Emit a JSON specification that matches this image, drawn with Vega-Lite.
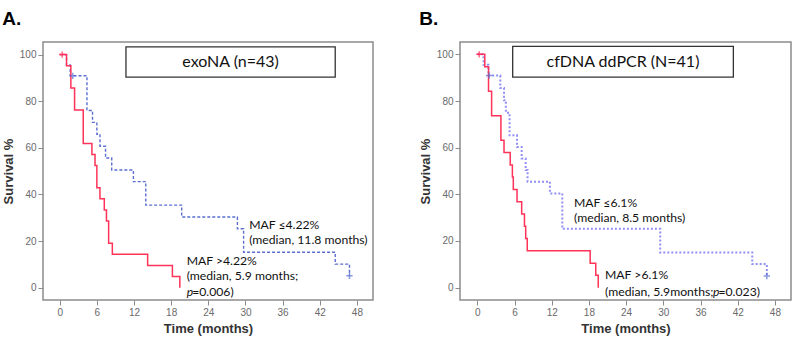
{
  "$schema": "https://vega.github.io/schema/vega-lite/v6.json",
  "background": "white",
  "padding": {"left": 1, "top": 9, "right": 5, "bottom": 5},
  "spacing": 44,
  "datasets": {
    "km": [
      {"panel": "A", "g": "hi", "t": 0, "s": 100},
      {"panel": "A", "g": "hi", "t": 1.1, "s": 95.2},
      {"panel": "A", "g": "hi", "t": 1.8, "s": 85.7},
      {"panel": "A", "g": "hi", "t": 2.4, "s": 76.2},
      {"panel": "A", "g": "hi", "t": 3.8, "s": 61.9},
      {"panel": "A", "g": "hi", "t": 5.2, "s": 57.1},
      {"panel": "A", "g": "hi", "t": 5.7, "s": 52.4},
      {"panel": "A", "g": "hi", "t": 6.0, "s": 42.9},
      {"panel": "A", "g": "hi", "t": 6.5, "s": 38.1},
      {"panel": "A", "g": "hi", "t": 7.2, "s": 33.3},
      {"panel": "A", "g": "hi", "t": 7.55, "s": 28.6},
      {"panel": "A", "g": "hi", "t": 7.9, "s": 19.0},
      {"panel": "A", "g": "hi", "t": 8.5, "s": 14.3},
      {"panel": "A", "g": "hi", "t": 14.2, "s": 9.5},
      {"panel": "A", "g": "hi", "t": 18.2, "s": 4.8},
      {"panel": "A", "g": "hi", "t": 19.4, "s": 0},
      {"panel": "A", "g": "lo", "t": 0, "s": 100},
      {"panel": "A", "g": "lo", "t": 1.1, "s": 95.5},
      {"panel": "A", "g": "lo", "t": 1.7, "s": 90.9},
      {"panel": "A", "g": "lo", "t": 4.4, "s": 76.0},
      {"panel": "A", "g": "lo", "t": 5.3, "s": 70.9},
      {"panel": "A", "g": "lo", "t": 6.0, "s": 65.8},
      {"panel": "A", "g": "lo", "t": 6.5, "s": 60.7},
      {"panel": "A", "g": "lo", "t": 7.4, "s": 55.6},
      {"panel": "A", "g": "lo", "t": 8.4, "s": 50.5},
      {"panel": "A", "g": "lo", "t": 11.9, "s": 45.5},
      {"panel": "A", "g": "lo", "t": 13.9, "s": 35.4},
      {"panel": "A", "g": "lo", "t": 19.7, "s": 30.3},
      {"panel": "A", "g": "lo", "t": 28.7, "s": 25.3},
      {"panel": "A", "g": "lo", "t": 29.7, "s": 15.2},
      {"panel": "A", "g": "lo", "t": 44.5, "s": 10.1},
      {"panel": "A", "g": "lo", "t": 46.8, "s": 5.1},
      {"panel": "B", "g": "hi", "t": 0, "s": 100},
      {"panel": "B", "g": "hi", "t": 1.2, "s": 94.7},
      {"panel": "B", "g": "hi", "t": 1.8, "s": 84.2},
      {"panel": "B", "g": "hi", "t": 2.3, "s": 73.7},
      {"panel": "B", "g": "hi", "t": 3.8, "s": 63.2},
      {"panel": "B", "g": "hi", "t": 4.3, "s": 57.9},
      {"panel": "B", "g": "hi", "t": 5.3, "s": 52.6},
      {"panel": "B", "g": "hi", "t": 5.65, "s": 47.4},
      {"panel": "B", "g": "hi", "t": 5.8, "s": 42.1},
      {"panel": "B", "g": "hi", "t": 6.4, "s": 36.8},
      {"panel": "B", "g": "hi", "t": 7.15, "s": 31.6},
      {"panel": "B", "g": "hi", "t": 7.6, "s": 26.3},
      {"panel": "B", "g": "hi", "t": 7.8, "s": 21.1},
      {"panel": "B", "g": "hi", "t": 8.05, "s": 15.8},
      {"panel": "B", "g": "hi", "t": 18.2, "s": 10.5},
      {"panel": "B", "g": "hi", "t": 19.1, "s": 5.3},
      {"panel": "B", "g": "hi", "t": 19.5, "s": 0},
      {"panel": "B", "g": "lo", "t": 0, "s": 100},
      {"panel": "B", "g": "lo", "t": 1.0, "s": 95.5},
      {"panel": "B", "g": "lo", "t": 1.8, "s": 90.9},
      {"panel": "B", "g": "lo", "t": 3.7, "s": 85.6},
      {"panel": "B", "g": "lo", "t": 4.3, "s": 80.3},
      {"panel": "B", "g": "lo", "t": 4.6, "s": 75.0},
      {"panel": "B", "g": "lo", "t": 5.2, "s": 65.3},
      {"panel": "B", "g": "lo", "t": 6.4, "s": 60.3},
      {"panel": "B", "g": "lo", "t": 7.15, "s": 55.4},
      {"panel": "B", "g": "lo", "t": 7.8, "s": 50.4},
      {"panel": "B", "g": "lo", "t": 8.1, "s": 45.4},
      {"panel": "B", "g": "lo", "t": 11.7, "s": 40.4},
      {"panel": "B", "g": "lo", "t": 13.7, "s": 25.2},
      {"panel": "B", "g": "lo", "t": 29.5, "s": 15.1},
      {"panel": "B", "g": "lo", "t": 44.35, "s": 10.1},
      {"panel": "B", "g": "lo", "t": 46.7, "s": 5.0}
    ],
    "cens": [
      {"panel": "A", "g": "hi", "t": 0.4, "s": 100},
      {"panel": "A", "g": "lo", "t": 2.1, "s": 90.9},
      {"panel": "A", "g": "lo", "t": 46.8, "s": 5.1},
      {"panel": "B", "g": "hi", "t": 0.3, "s": 100},
      {"panel": "B", "g": "lo", "t": 1.9, "s": 90.9},
      {"panel": "B", "g": "lo", "t": 46.7, "s": 5.0}
    ],
    "box": [
      {"panel": "A", "t0": 10.7, "t1": 44.5, "s0": 90.3, "s1": 103.3, "tc": 27.6, "sc": 96.8, "label": "exoNA (n=43)"},
      {"panel": "B", "t0": 5.7, "t1": 41.3, "s0": 90.2, "s1": 103.4, "tc": 23.5, "sc": 96.8, "label": "cfDNA ddPCR (N=41)"}
    ],
    "notes": [
      {"panel": "A", "t": 30.6, "s": 26.7, "label": "MAF ≤4.22%"},
      {"panel": "A", "t": 30.6, "s": 20.4, "label": "(median, 11.8 months)"},
      {"panel": "A", "t": 20.5, "s": 11.4, "label": "MAF >4.22%"},
      {"panel": "A", "t": 20.5, "s": 4.9, "label": "(median, 5.9 months;"},
      {"panel": "A", "t": 21.4, "s": -1.7, "label": "=0.006)"},
      {"panel": "B", "t": 15.6, "s": 36.1, "label": "MAF ≤6.1%"},
      {"panel": "B", "t": 15.6, "s": 29.7, "label": "(median, 8.5 months)"},
      {"panel": "B", "t": 20.6, "s": 5.3, "label": "MAF >6.1%"},
      {"panel": "B", "t": 20.6, "s": -1.7, "label": "(median, 5.9months;"},
      {"panel": "B", "t": 38.9, "s": -1.7, "label": "=0.023)"}
    ],
    "pnotes": [
      {"panel": "A", "t": 20.5, "s": -1.7, "label": "p"},
      {"panel": "B", "t": 38.0, "s": -1.7, "label": "p"}
    ]
  },
  "hconcat": [
    {
      "title": {"text": "A.", "anchor": "start", "frame": "bounds", "fontSize": 19, "fontWeight": "bold", "font": "Liberation Sans", "color": "black", "offset": 13},
      "width": 330,
      "height": 258,
      "layer": [
        {"data": {"name": "box"}, "transform": [{"filter": "datum.panel === 'A'"}],
         "mark": {"type": "rect", "fill": "white", "stroke": "#333", "strokeWidth": 1.3},
         "encoding": {
           "x": {"field": "t0", "type": "quantitative", "scale": {"domain": [-2.7, 50.6], "nice": false, "zero": false}, "axis": {"values": [0, 6, 12, 18, 24, 30, 36, 42, 48], "title": "Time (months)"}},
           "x2": {"field": "t1"},
           "y": {"field": "s0", "type": "quantitative", "scale": {"domain": [-5.3, 105.4], "nice": false, "zero": false}, "axis": {"values": [0, 20, 40, 60, 80, 100], "title": "Survival %"}},
           "y2": {"field": "s1"}}},
        {"data": {"name": "box"}, "transform": [{"filter": "datum.panel === 'A'"}],
         "mark": {"type": "text", "font": "Lato", "fontSize": 16, "color": "#111", "align": "center", "baseline": "middle"},
         "encoding": {"x": {"field": "tc", "type": "quantitative"}, "y": {"field": "sc", "type": "quantitative"}, "text": {"field": "label"}}},
        {"data": {"name": "km"}, "transform": [{"filter": "datum.panel === 'A' && datum.g === 'lo'"}],
         "mark": {"type": "line", "interpolate": "step-after", "color": "#5a6ed0", "strokeWidth": 1.4, "strokeDash": [3, 2]},
         "encoding": {"x": {"field": "t", "type": "quantitative"}, "y": {"field": "s", "type": "quantitative"}, "order": {"field": "t"}}},
        {"data": {"name": "km"}, "transform": [{"filter": "datum.panel === 'A' && datum.g === 'hi'"}],
         "mark": {"type": "line", "interpolate": "step-after", "color": "#ff3358", "strokeWidth": 1.5},
         "encoding": {"x": {"field": "t", "type": "quantitative"}, "y": {"field": "s", "type": "quantitative"}, "order": {"field": "t"}}},
        {"data": {"name": "cens"}, "transform": [{"filter": "datum.panel === 'A' && datum.g === 'hi'"}],
         "mark": {"type": "point", "shape": "M-1,0H1M0,-1V1", "size": 40, "filled": false, "stroke": "#ff3358", "strokeWidth": 1.5},
         "encoding": {"x": {"field": "t", "type": "quantitative"}, "y": {"field": "s", "type": "quantitative"}}},
        {"data": {"name": "cens"}, "transform": [{"filter": "datum.panel === 'A' && datum.g === 'lo'"}],
         "mark": {"type": "point", "shape": "M-1,0H1M0,-1V1", "size": 40, "filled": false, "stroke": "#5a6ed0", "strokeWidth": 1.5},
         "encoding": {"x": {"field": "t", "type": "quantitative"}, "y": {"field": "s", "type": "quantitative"}}},
        {"data": {"name": "notes"}, "transform": [{"filter": "datum.panel === 'A'"}],
         "mark": {"type": "text", "font": "Lato", "fontSize": 12.2, "color": "#111", "align": "left", "baseline": "middle"},
         "encoding": {"x": {"field": "t", "type": "quantitative"}, "y": {"field": "s", "type": "quantitative"}, "text": {"field": "label"}}},
        {"data": {"name": "pnotes"}, "transform": [{"filter": "datum.panel === 'A'"}],
         "mark": {"type": "text", "font": "Lato", "fontSize": 12.2, "fontStyle": "italic", "color": "#111", "align": "left", "baseline": "middle"},
         "encoding": {"x": {"field": "t", "type": "quantitative"}, "y": {"field": "s", "type": "quantitative"}, "text": {"field": "label"}}}
      ]
    },
    {
      "title": {"text": "B.", "anchor": "start", "frame": "bounds", "fontSize": 19, "fontWeight": "bold", "font": "Liberation Sans", "color": "black", "offset": 13},
      "width": 331,
      "height": 258,
      "layer": [
        {"data": {"name": "box"}, "transform": [{"filter": "datum.panel === 'B'"}],
         "mark": {"type": "rect", "fill": "white", "stroke": "#333", "strokeWidth": 1.3},
         "encoding": {
           "x": {"field": "t0", "type": "quantitative", "scale": {"domain": [-2.8, 50.6], "nice": false, "zero": false}, "axis": {"values": [0, 6, 12, 18, 24, 30, 36, 42, 48], "title": "Time (months)"}},
           "x2": {"field": "t1"},
           "y": {"field": "s0", "type": "quantitative", "scale": {"domain": [-5.3, 105.3], "nice": false, "zero": false}, "axis": {"values": [0, 20, 40, 60, 80, 100], "title": "Survival %"}},
           "y2": {"field": "s1"}}},
        {"data": {"name": "box"}, "transform": [{"filter": "datum.panel === 'B'"}],
         "mark": {"type": "text", "font": "Lato", "fontSize": 16, "color": "#111", "align": "center", "baseline": "middle"},
         "encoding": {"x": {"field": "tc", "type": "quantitative"}, "y": {"field": "sc", "type": "quantitative"}, "text": {"field": "label"}}},
        {"data": {"name": "km"}, "transform": [{"filter": "datum.panel === 'B' && datum.g === 'lo'"}],
         "mark": {"type": "line", "interpolate": "step-after", "color": "#9090f5", "strokeWidth": 2, "strokeDash": [2, 2]},
         "encoding": {"x": {"field": "t", "type": "quantitative"}, "y": {"field": "s", "type": "quantitative"}, "order": {"field": "t"}}},
        {"data": {"name": "km"}, "transform": [{"filter": "datum.panel === 'B' && datum.g === 'hi'"}],
         "mark": {"type": "line", "interpolate": "step-after", "color": "#ff3358", "strokeWidth": 1.5},
         "encoding": {"x": {"field": "t", "type": "quantitative"}, "y": {"field": "s", "type": "quantitative"}, "order": {"field": "t"}}},
        {"data": {"name": "cens"}, "transform": [{"filter": "datum.panel === 'B' && datum.g === 'hi'"}],
         "mark": {"type": "point", "shape": "M-1,0H1M0,-1V1", "size": 40, "filled": false, "stroke": "#ff3358", "strokeWidth": 1.5},
         "encoding": {"x": {"field": "t", "type": "quantitative"}, "y": {"field": "s", "type": "quantitative"}}},
        {"data": {"name": "cens"}, "transform": [{"filter": "datum.panel === 'B' && datum.g === 'lo'"}],
         "mark": {"type": "point", "shape": "M-1,0H1M0,-1V1", "size": 40, "filled": false, "stroke": "#5a6ed0", "strokeWidth": 1.5},
         "encoding": {"x": {"field": "t", "type": "quantitative"}, "y": {"field": "s", "type": "quantitative"}}},
        {"data": {"name": "notes"}, "transform": [{"filter": "datum.panel === 'B'"}],
         "mark": {"type": "text", "font": "Lato", "fontSize": 12.2, "color": "#111", "align": "left", "baseline": "middle"},
         "encoding": {"x": {"field": "t", "type": "quantitative"}, "y": {"field": "s", "type": "quantitative"}, "text": {"field": "label"}}},
        {"data": {"name": "pnotes"}, "transform": [{"filter": "datum.panel === 'B'"}],
         "mark": {"type": "text", "font": "Lato", "fontSize": 12.2, "fontStyle": "italic", "color": "#111", "align": "left", "baseline": "middle"},
         "encoding": {"x": {"field": "t", "type": "quantitative"}, "y": {"field": "s", "type": "quantitative"}, "text": {"field": "label"}}}
      ]
    }
  ],
  "config": {
    "view": {"stroke": "#8c8c8c", "strokeWidth": 1.5},
    "axis": {
      "domain": false,
      "grid": false,
      "tickColor": "#8c8c8c",
      "tickSize": 5,
      "labelColor": "#6a6a6a",
      "labelFont": "Liberation Sans",
      "labelFontSize": 10,
      "labelPadding": 2,
      "titleFont": "Liberation Sans",
      "titleFontSize": 13,
      "titleFontWeight": "bold",
      "titleColor": "#333"
    },
    "axisY": {"titlePadding": 4},
    "axisX": {"titlePadding": 5}
  }
}
